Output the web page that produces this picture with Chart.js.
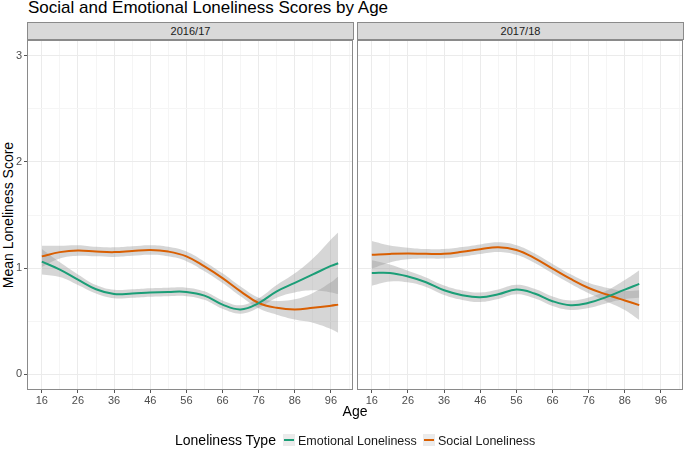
<!DOCTYPE html>
<html>
<head>
<meta charset="utf-8">
<script src="https://cdn.jsdelivr.net/npm/chart.js@4.4.1/dist/chart.umd.min.js"></script>
<style>
  body { margin: 0; background: #fff; font-family: "Liberation Sans", Arial, sans-serif; }
  #wrap { position: relative; width: 685px; height: 451px; overflow: hidden; }
  canvas { position: absolute; }
  .txt { position: absolute; white-space: nowrap; }
  .strip { position: absolute; box-sizing: border-box; height: 18px; top: 22px;
           background: #d9d9d9; border: 1px solid #8a8a8a; font-size: 11px; color: #1a1a1a;
           text-align: center; line-height: 16px; }
  .key { position: absolute; width: 12px; height: 12px; background: #ebebeb; top: 434px; }
  .key span { position: absolute; left: 1px; right: 1px; top: 5px; height: 2px; }
</style>
</head>
<body>
<div id="wrap">
  <div class="txt" style="left:28px; top:-2px; font-size:17px; color:#000;">Social and Emotional Loneliness Scores by Age</div>
  <div class="strip" style="left:27px; width:327px;">2016/17</div>
  <div class="strip" style="left:357px; width:327px;">2017/18</div>
  <div class="txt" style="left:8px; top:215px; font-size:14px; transform: translate(-50%,-50%) rotate(-90deg);">Mean Loneliness Score</div>
  <canvas id="p1" width="354" height="371" style="left:0; top:39px;"></canvas>
  <canvas id="p2" width="329" height="371" style="left:356px; top:39px;"></canvas>
  <div class="txt" style="left:355px; top:403px; font-size:14px; transform: translateX(-50%);">Age</div>
  <div class="txt" style="left:175px; top:432px; font-size:14px;">Loneliness Type</div>
  <div class="key" style="left:283px;"><span style="background:#1b9e77;"></span></div>
  <div class="txt" style="left:298px; top:434px; font-size:12.5px; color:#1a1a1a;">Emotional Loneliness</div>
  <div class="key" style="left:423px;"><span style="background:#d95f02;"></span></div>
  <div class="txt" style="left:438px; top:434px; font-size:12.5px; color:#1a1a1a;">Social Loneliness</div>
</div>
<script>
// 2016/17 panel
const ages1 = [16, 21, 26, 31, 36, 41, 46, 51, 56, 61, 66, 71, 76, 81, 86, 91, 96, 98];
const social1 = [1.11, 1.15, 1.165, 1.155, 1.15, 1.16, 1.17, 1.155, 1.11, 1.015, 0.905, 0.78, 0.67, 0.625, 0.61, 0.625, 0.645, 0.655];
const socialSe1 = [0.1, 0.06, 0.05, 0.045, 0.045, 0.045, 0.045, 0.045, 0.045, 0.045, 0.045, 0.045, 0.05, 0.065, 0.095, 0.14, 0.22, 0.265];
const emo1 = [1.06, 0.985, 0.89, 0.80, 0.755, 0.76, 0.77, 0.775, 0.775, 0.74, 0.655, 0.61, 0.67, 0.78, 0.86, 0.94, 1.02, 1.045];
const emoSe1 = [0.12, 0.07, 0.05, 0.04, 0.04, 0.04, 0.04, 0.04, 0.04, 0.04, 0.04, 0.04, 0.045, 0.06, 0.09, 0.15, 0.25, 0.29];

// 2017/18 panel
const ages2 = [16, 21, 26, 31, 36, 41, 46, 51, 56, 61, 66, 71, 76, 81, 86, 90];
const social2 = [1.125, 1.133, 1.137, 1.134, 1.134, 1.153, 1.178, 1.197, 1.17, 1.094, 0.994, 0.897, 0.812, 0.75, 0.694, 0.65];
const socialSe2 = [0.13, 0.08, 0.055, 0.045, 0.045, 0.045, 0.045, 0.045, 0.045, 0.045, 0.045, 0.045, 0.05, 0.065, 0.09, 0.14];
const emo2 = [0.953, 0.953, 0.92, 0.866, 0.79, 0.744, 0.725, 0.753, 0.797, 0.76, 0.6875, 0.65, 0.672, 0.728, 0.797, 0.85];
const emoSe2 = [0.12, 0.08, 0.055, 0.045, 0.045, 0.045, 0.045, 0.045, 0.045, 0.045, 0.045, 0.045, 0.05, 0.06, 0.09, 0.13];

const xTicks = [16, 21, 26, 31, 36, 41, 46, 51, 56, 61, 66, 71, 76, 81, 86, 91, 96, 101];
const yTicks = [0, 0.5, 1, 1.5, 2, 2.5, 3];

const GREEN = '#1b9e77';
const ORANGE = '#d95f02';
const BAND = 'rgba(153,153,153,0.4)';

const pts = (ages, vals, se, sign) => ages.map((a, i) => ({ x: a, y: vals[i] + sign * se[i] }));

// rand kotak panel
const borderPlugin = {
  id: 'panelBorder',
  afterDatasetsDraw(chart) {
    const { ctx, chartArea: a } = chart;
    ctx.save();
    ctx.strokeStyle = '#8a8a8a';
    ctx.lineWidth = 1;
    ctx.strokeRect(a.left + 0.5, a.top + 0.5, a.right - a.left - 1, a.bottom - a.top - 1);
    ctx.restore();
  }
};

function noPad(s) {
  s.paddingTop = 0; s.paddingBottom = 0; s.paddingLeft = 0; s.paddingRight = 0;
}

function makePanel(id, ages, social, socialSe, emo, emoSe, showY) {
  const ribbon = (vals, se) => [
    { data: pts(ages, vals, se, 1), borderWidth: 0, pointRadius: 0, backgroundColor: BAND, fill: '+1', order: 2 },
    { data: pts(ages, vals, se, -1), borderWidth: 0, pointRadius: 0, backgroundColor: BAND, fill: false, order: 2 }
  ];
  const line = (vals, color) => ({
    data: ages.map((a, i) => ({ x: a, y: vals[i] })),
    borderColor: color, borderWidth: 2, pointRadius: 0, fill: false, order: 0
  });

  new Chart(document.getElementById(id), {
    type: 'line',
    data: {
      datasets: [
        ...ribbon(emo, emoSe),
        ...ribbon(social, socialSe),
        line(emo, GREEN),
        line(social, ORANGE)
      ]
    },
    options: {
      responsive: false,
      animation: false,
      elements: { line: { tension: 0.4 } },
      layout: { padding: showY ? { top: 1, right: 1, left: 0, bottom: 0 } : { top: 1, right: 2, left: 1, bottom: 0 } },
      plugins: { legend: { display: false }, tooltip: { enabled: false } },
      scales: {
        x: {
          type: 'linear', min: 11.9, max: 102.1,
          afterBuildTicks: s => { s.ticks = xTicks.map(v => ({ value: v })); },
          afterFit: s => { s.height = 20; noPad(s); },
          border: { display: false },
          grid: {
            color: c => (c.tick && (c.tick.value - 16) % 10 === 0) ? '#ebebeb' : '#f5f5f5',
            tickColor: c => (c.tick && (c.tick.value - 16) % 10 === 0) ? '#555' : 'rgba(0,0,0,0)',
            tickLength: 3
          },
          ticks: {
            autoSkip: false, maxRotation: 0, padding: 1,
            color: '#4d4d4d', font: { family: '"Liberation Sans", Arial', size: 11 },
            callback: v => ((v - 16) % 10 === 0 && v <= 96) ? String(v) : ''
          }
        },
        y: {
          min: -0.15, max: 3.15,
          afterBuildTicks: s => { s.ticks = yTicks.map(v => ({ value: v })); },
          afterFit: s => { s.width = showY ? 27 : 0; noPad(s); },
          border: { display: false },
          grid: {
            color: c => (c.tick && Number.isInteger(c.tick.value)) ? '#ebebeb' : '#f5f5f5',
            tickColor: c => (showY && c.tick && Number.isInteger(c.tick.value)) ? '#555' : 'rgba(0,0,0,0)',
            tickLength: 3,
            drawTicks: showY
          },
          ticks: {
            display: showY, autoSkip: false, padding: 2,
            color: '#4d4d4d', font: { family: '"Liberation Sans", Arial', size: 11 },
            callback: v => Number.isInteger(v) ? String(v) : ''
          }
        }
      }
    },
    plugins: [borderPlugin]
  });
}

makePanel('p1', ages1, social1, socialSe1, emo1, emoSe1, true);
makePanel('p2', ages2, social2, socialSe2, emo2, emoSe2, false);
</script>
</body>
</html>
